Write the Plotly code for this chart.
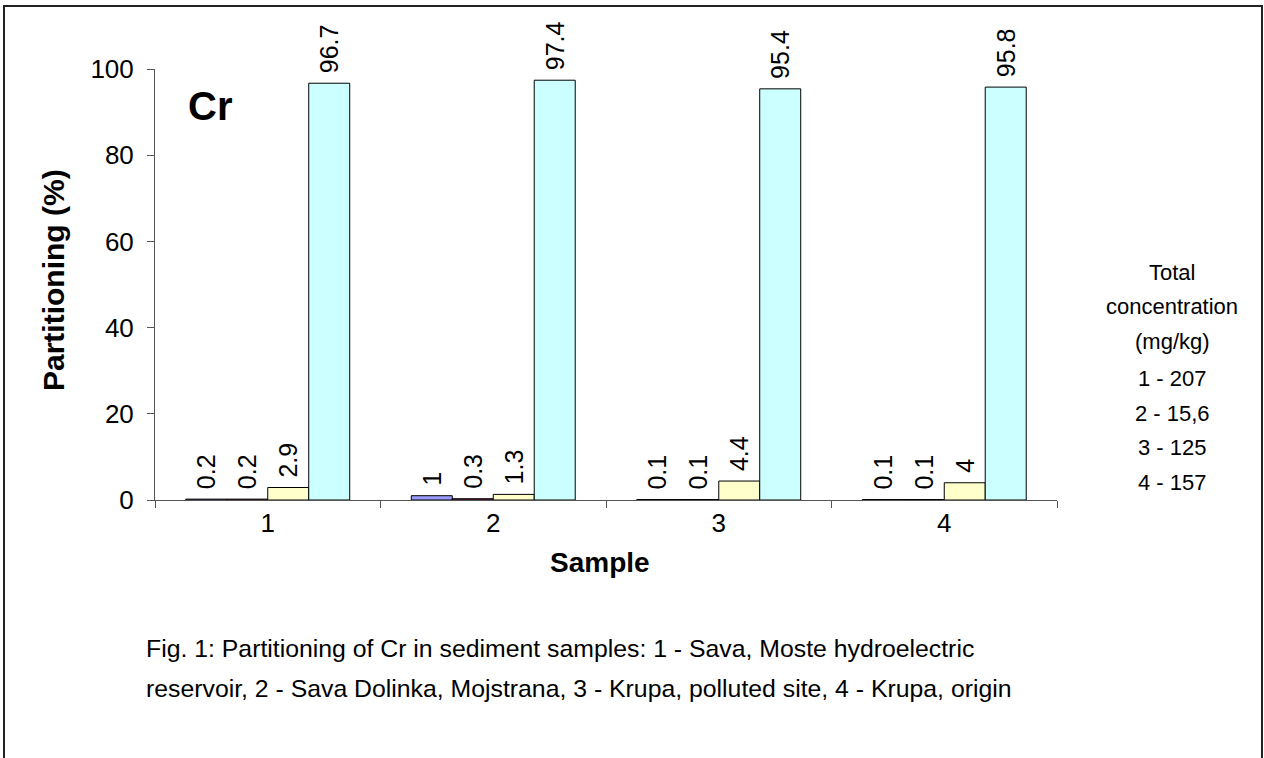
import plotly.graph_objects as go

# ---- data ----
samples = ["1", "2", "3", "4"]
series_names = ["Fraction 1", "Fraction 2", "Fraction 3", "Fraction 4"]
frac1 = [0.2, 1, 0.1, 0.1]
frac2 = [0.2, 0.3, 0.1, 0.1]
frac3 = [2.9, 1.3, 4.4, 4]
frac4 = [96.7, 97.4, 95.4, 95.8]
series_values = [frac1, frac2, frac3, frac4]
colors = ["#9999FF", "#993366", "#FFFFCC", "#CCFFFF"]
y_ticks = [0, 20, 40, 60, 80, 100]
conc_lines = ["Total", "concentration", "(mg/kg)", "1 - 207", "2 - 15,6", "3 - 125", "4 - 157"]
caption_lines = [
    "Fig. 1: Partitioning of Cr in sediment samples: 1 - Sava, Moste hydroelectric",
    "reservoir, 2 - Sava Dolinka, Mojstrana, 3 - Krupa, polluted site, 4 - Krupa, origin",
]

FONT = "Arial, Liberation Sans, Helvetica, sans-serif"

# pixel geometry helpers (plot area: x 155..1057, y 69..500)
L, R, T, B = 155, 1057, 69, 500
def px(x):
    return (x - L) / (R - L)
def py(y):
    return (B - y) / (B - T)

fig = go.Figure()
for name, vals, col in zip(series_names, series_values, colors):
    fig.add_trace(go.Bar(
        x=samples, y=vals, name=name,
        marker=dict(color=col, line=dict(color="black", width=1)),
        text=["\u00a0" + f"{v:g}" for v in vals],
        textposition="outside", textangle=-90,
        textfont=dict(family=FONT, size=25, color="black"),
        constraintext="none", cliponaxis=False,
    ))

def ann(text, x, y, size, bold=False, angle=0, xanchor="center"):
    return dict(text=f"<b>{text}</b>" if bold else text, x=px(x), y=py(y),
                xref="paper", yref="paper", xanchor=xanchor, yanchor="middle",
                showarrow=False, textangle=angle,
                font=dict(family=FONT, size=size, color="black"))

annotations = [
    ann("Cr", 210, 106, 40, bold=True),
    ann("Sample", 600, 562, 28, bold=True),
    ann("Partitioning (%)", 53, 280, 30, bold=True, angle=-90),
]
conc_y = [272, 306, 342, 378, 413, 447, 482]
for t, yy in zip(conc_lines, conc_y):
    annotations.append(ann(t, 1172, yy, 22))
for t, yy in zip(caption_lines, [648, 688]):
    annotations.append(ann(t, 144, yy, 24.8, xanchor="left"))

fig.update_layout(
    width=1264, height=758,
    margin=dict(l=L, r=1264 - R, t=T, b=758 - B, pad=0),
    paper_bgcolor="white", plot_bgcolor="white",
    barmode="group", bargap=0.273, bargroupgap=0,
    showlegend=False,
    font=dict(family=FONT, color="black"),
    xaxis=dict(type="category", showline=True, linecolor="#555", linewidth=1,
               ticks="outside", tickson="boundaries", ticklen=7, tickcolor="#555",
               tickfont=dict(family=FONT, size=26, color="black"), showgrid=False),
    yaxis=dict(range=[0, 100], tickvals=y_ticks, ticklabelstandoff=8,
               showline=True, linecolor="#555", linewidth=1,
               ticks="outside", ticklen=7, tickcolor="#555", showgrid=False, zeroline=False,
               tickfont=dict(family=FONT, size=26, color="black")),
    annotations=annotations,
    shapes=[dict(type="rect", xref="paper", yref="paper",
                 x0=px(4), x1=px(1262), y0=py(790), y1=py(6),
                 line=dict(color="#222", width=2), fillcolor="rgba(0,0,0,0)", layer="above")],
)

fig.write_html("out.html", config={"displayModeBar": False},
               post_script="document.body.style.margin='0';document.body.style.overflow='hidden';")
